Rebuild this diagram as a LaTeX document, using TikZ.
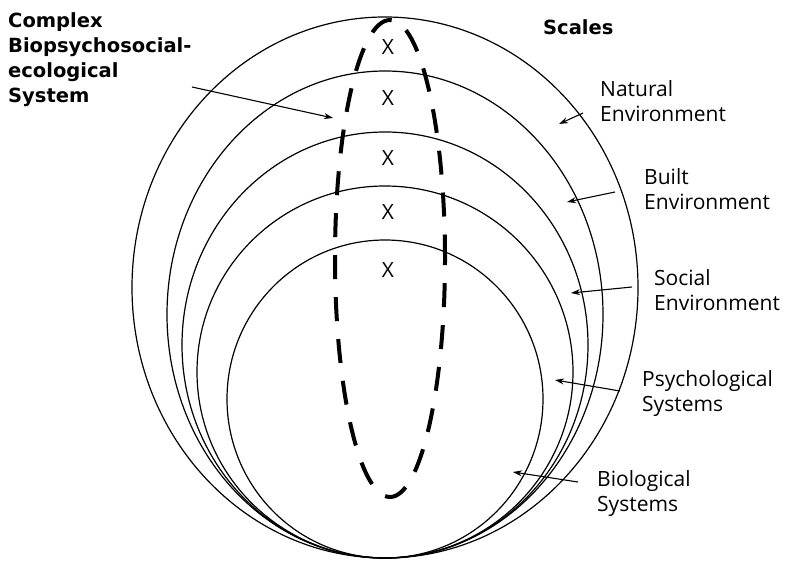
\documentclass[tikz,border=0pt]{standalone}
\usepackage{fontspec}
\setmainfont{Open Sans}
\newfontfamily\headfont{DejaVu Sans}
\usetikzlibrary{arrows.meta}

\begin{document}
\begin{tikzpicture}[
  x=1pt, y=1pt,
  ring/.style={draw, line width=1.2pt},
  loopline/.style={draw, line width=4pt, dash pattern=on 24pt off 18pt},
  lbl/.style={anchor=north west, inner sep=0pt, align=left,
              font=\fontsize{21}{25}\selectfont},
  hdr/.style={lbl, font=\headfont\bfseries\fontsize{19.5}{25}\selectfont},
  cross/.style={inner sep=0pt, font=\fontsize{21}{25}\selectfont},
  arr/.style={-{Stealth[length=9pt,width=6pt]}, line width=1.1pt}
]
\useasboundingbox (0,0) rectangle (786,560);

%% ── nested scales (all touching at the bottom) ──────────────────────────
\draw[ring] (385,272.5) ellipse [x radius=253pt, y radius=270.5pt]; % natural
\draw[ring] (385,245.5) ellipse [x radius=218pt, y radius=243.5pt]; % built
\draw[ring] (385,215)   ellipse [x radius=203pt, y radius=213pt];   % social
\draw[ring] (385,188)   ellipse [x radius=188pt, y radius=186pt];   % psychological
\draw[ring] (385,161)   ellipse [x radius=158pt, y radius=159pt];   % biological

%% ── the system cutting through every scale ─────────────────────────────
\draw[loopline] (390,301.5) ellipse [x radius=55pt, y radius=238.5pt];

\node[cross] (x1) at (388,513) {X};
\node[cross] (x2) at (388,462) {X};
\node[cross] (x3) at (388,402) {X};
\node[cross] (x4) at (388,348) {X};
\node[cross] (x5) at (388,290) {X};

%% ── labels ──────────────────────────────────────────────────────────────
\node[hdr] (cbs) at (8,548)   {Complex\\Biopsychosocial-\\ecological\\System};
\node[hdr] (scl) at (543,541) {Scales};

\node[lbl] (nat) at (600,480) {Natural\\Environment};
\node[lbl] (blt) at (644,392) {Built\\Environment};
\node[lbl] (soc) at (654,291) {Social\\Environment};
\node[lbl] (psy) at (642,190) {Psychological\\Systems};
\node[lbl] (bio) at (597,90)  {Biological\\Systems};

%% ── pointer ends ────────────────────────────────────────────────────────
\coordinate (cbsS) at (192,473); \coordinate (cbsT) at (333,442);
\coordinate (natS) at (583,447); \coordinate (natT) at (559,436);
\coordinate (bltS) at (615,368); \coordinate (bltT) at (567,358);
\coordinate (socS) at (632,273); \coordinate (socT) at (571,267);
\coordinate (psyS) at (620,169); \coordinate (psyT) at (555,180);
\coordinate (bioS) at (578,78);  \coordinate (bioT) at (513,88);

%% ── pointers ────────────────────────────────────────────────────────────
\draw[arr] (cbsS) -- (cbsT);
\draw[arr] (natS) -- (natT);
\draw[arr] (bltS) -- (bltT);
\draw[arr] (socS) -- (socT);
\draw[arr] (psyS) -- (psyT);
\draw[arr] (bioS) -- (bioT);

\end{tikzpicture}
\end{document}
